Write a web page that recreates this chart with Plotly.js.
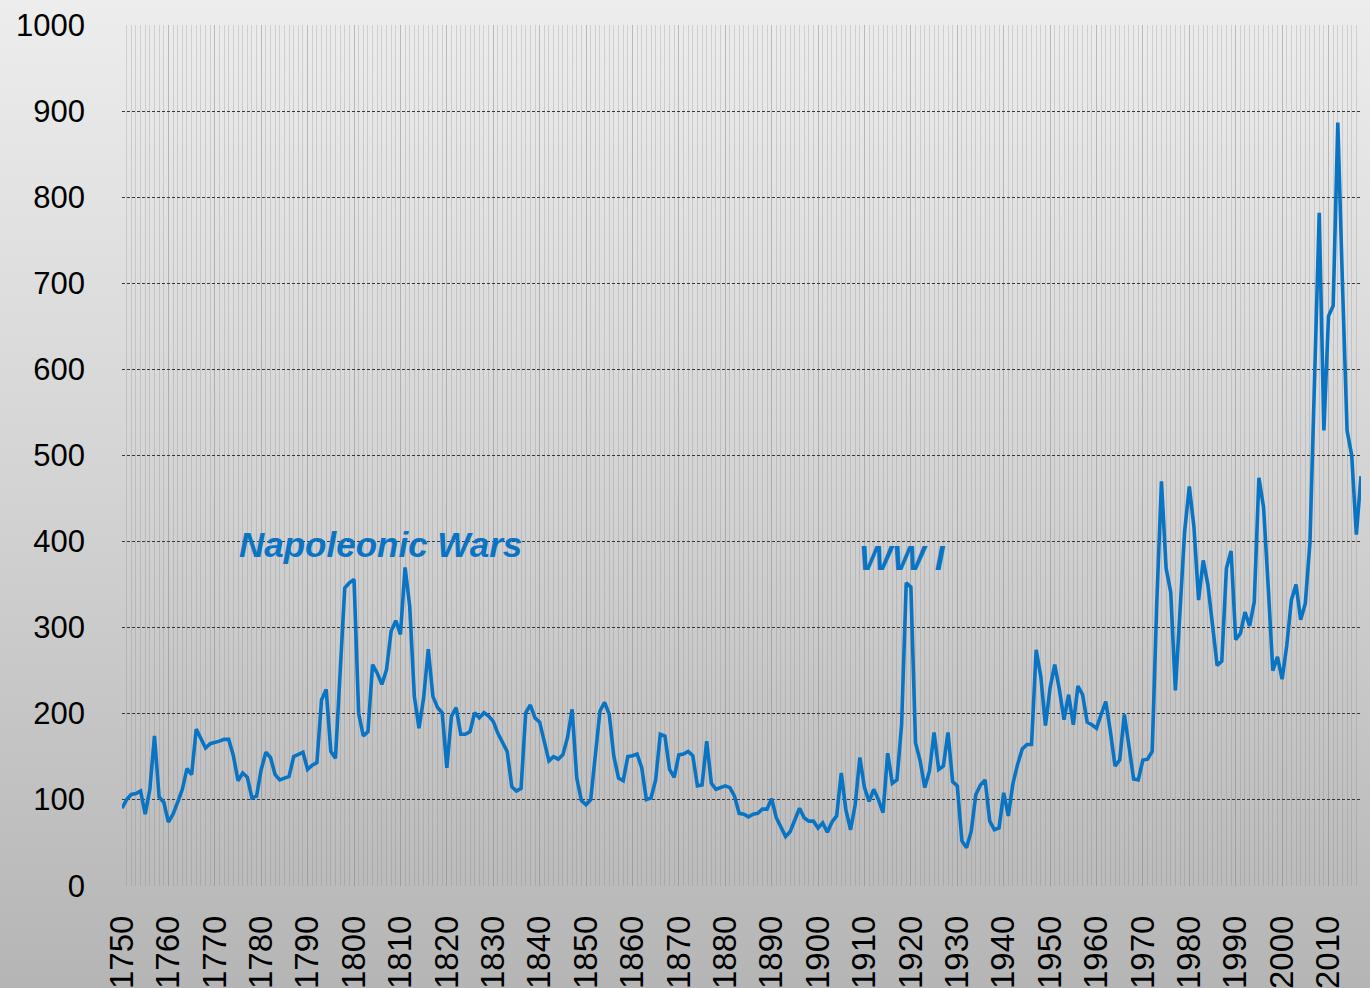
<!DOCTYPE html>
<html>
<head>
<meta charset="utf-8">
<script src="https://cdn.plot.ly/plotly-3.0.1.min.js"></script>
<style>
  html, body { margin: 0; padding: 0; }
  body { width: 1370px; height: 988px; overflow: hidden;
         background: linear-gradient(to bottom, #ededed 0%, #d3d3d3 50%, #b5b5b5 100%); }
  #chart { width: 1370px; height: 988px; }
</style>
</head>
<body>
<div id="chart"></div>
<script>
// Index values by year, starting at 1750 (one value per year)
const startYear = 1750;
const values = [
  90,100,106,107,110,83,112,174,103,97,      // 1750s
  74,83,97,112,136,129,182,170,160,165,      // 1760s
  166,168,170,170,151,122,131,126,102,104,   // 1770s
  135,155,149,129,123,125,127,150,153,155,   // 1780s
  135,140,143,216,228,156,148,247,346,352,   // 1790s
  356,200,174,179,257,247,234,251,296,308,   // 1800s
  292,370,325,220,183,218,275,220,207,201,   // 1810s
  137,197,207,176,176,179,201,195,201,197,   // 1820s
  191,177,166,156,115,110,113,201,210,195,   // 1830s
  190,168,145,150,147,152,172,205,125,99,    // 1840s
  94,100,150,203,213,199,150,125,122,150,    // 1850s
  151,153,137,100,102,123,176,174,135,126,   // 1860s
  152,153,156,151,116,117,168,119,112,114,   // 1870s
  116,114,104,84,83,80,83,84,89,89,          // 1880s
  101,79,69,57,63,77,90,79,75,75,            // 1890s
  67,73,62,74,81,131,88,65,94,149,           // 1900s
  114,98,112,100,85,154,119,123,187,352,     // 1910s
  347,166,145,114,133,178,135,139,178,121,   // 1920s
  116,52,44,63,106,117,123,75,65,67,         // 1930s
  108,81,119,141,159,164,164,274,243,186,    // 1940s
  230,257,228,193,222,187,232,222,190,187,   // 1950s
  183,199,214,179,139,146,199,162,124,123,   // 1960s
  146,147,156,330,470,369,341,227,321,412,   // 1970s
  464,417,332,378,350,298,256,261,369,389,   // 1980s
  286,293,318,302,330,474,440,348,250,266,   // 1990s
  240,279,332,350,309,328,399,590,782,529,   // 2000s
  662,674,887,700,529,500,408,476            // 2010s
];
const years = values.map((_, i) => startYear + i);

const xTickVals = [1750,1760,1770,1780,1790,1800,1810,1820,1830,1840,1850,1860,1870,1880,1890,1900,1910,1920,1930,1940,1950,1960,1970,1980,1990,2000,2010];
const xTickText = xTickVals.map(String);
const yTickVals = [0,100,200,300,400,500,600,700,800,900,1000];

const annLabels = ['Napoleonic Wars', 'WW I'];
const annX = [1805.6, 1918.1];
const annY = [396, 381];

const blue = '#0a74c4';
const vgrid = 'rgba(110,110,110,0.22)';
const sans = '"Liberation Sans", Arial, sans-serif';

const trace = {
  x: years, y: values, type: 'scatter', mode: 'lines',
  line: { color: blue, width: 3.6 },
  hoverinfo: 'x+y'
};

const layout = {
  width: 1370, height: 988,
  margin: { l: 122, r: 9, t: 25, b: 102, pad: 0 },
  paper_bgcolor: 'rgba(0,0,0,0)',
  plot_bgcolor: 'rgba(0,0,0,0)',
  showlegend: false,
  xaxis: {
    range: [1750, 2017], autorange: false,
    tickmode: 'array', tickvals: xTickVals, ticktext: xTickText,
    tickangle: -90,
    tickfont: { family: sans, size: 33, color: '#000' },
    ticks: '', ticklabelstandoff: 22,
    showgrid: true, gridcolor: vgrid, gridwidth: 1,
    minor: { dtick: 1, tick0: 1750, showgrid: true, gridcolor: vgrid, gridwidth: 1, ticks: '' },
    zeroline: false, showline: false, automargin: false
  },
  yaxis: {
    range: [-0.4, 1000.4], autorange: false,
    tickmode: 'array', tickvals: yTickVals,
    tickfont: { family: sans, size: 31, color: '#000' },
    ticks: '', ticklabelstandoff: 36,
    showgrid: true, gridcolor: '#383838', gridwidth: 1.2, griddash: '3px,2px',
    zeroline: false, showline: false, automargin: false
  },
  annotations: annLabels.map((t, i) => ({
    x: annX[i], y: annY[i], xref: 'x', yref: 'y',
    text: '<b><i>' + t + '</i></b>', showarrow: false,
    font: { family: sans, size: 35, color: blue },
    xanchor: 'center', yanchor: 'middle'
  }))
};

Plotly.newPlot('chart', [trace], layout, { displayModeBar: false, staticPlot: true });
</script>
</body>
</html>
